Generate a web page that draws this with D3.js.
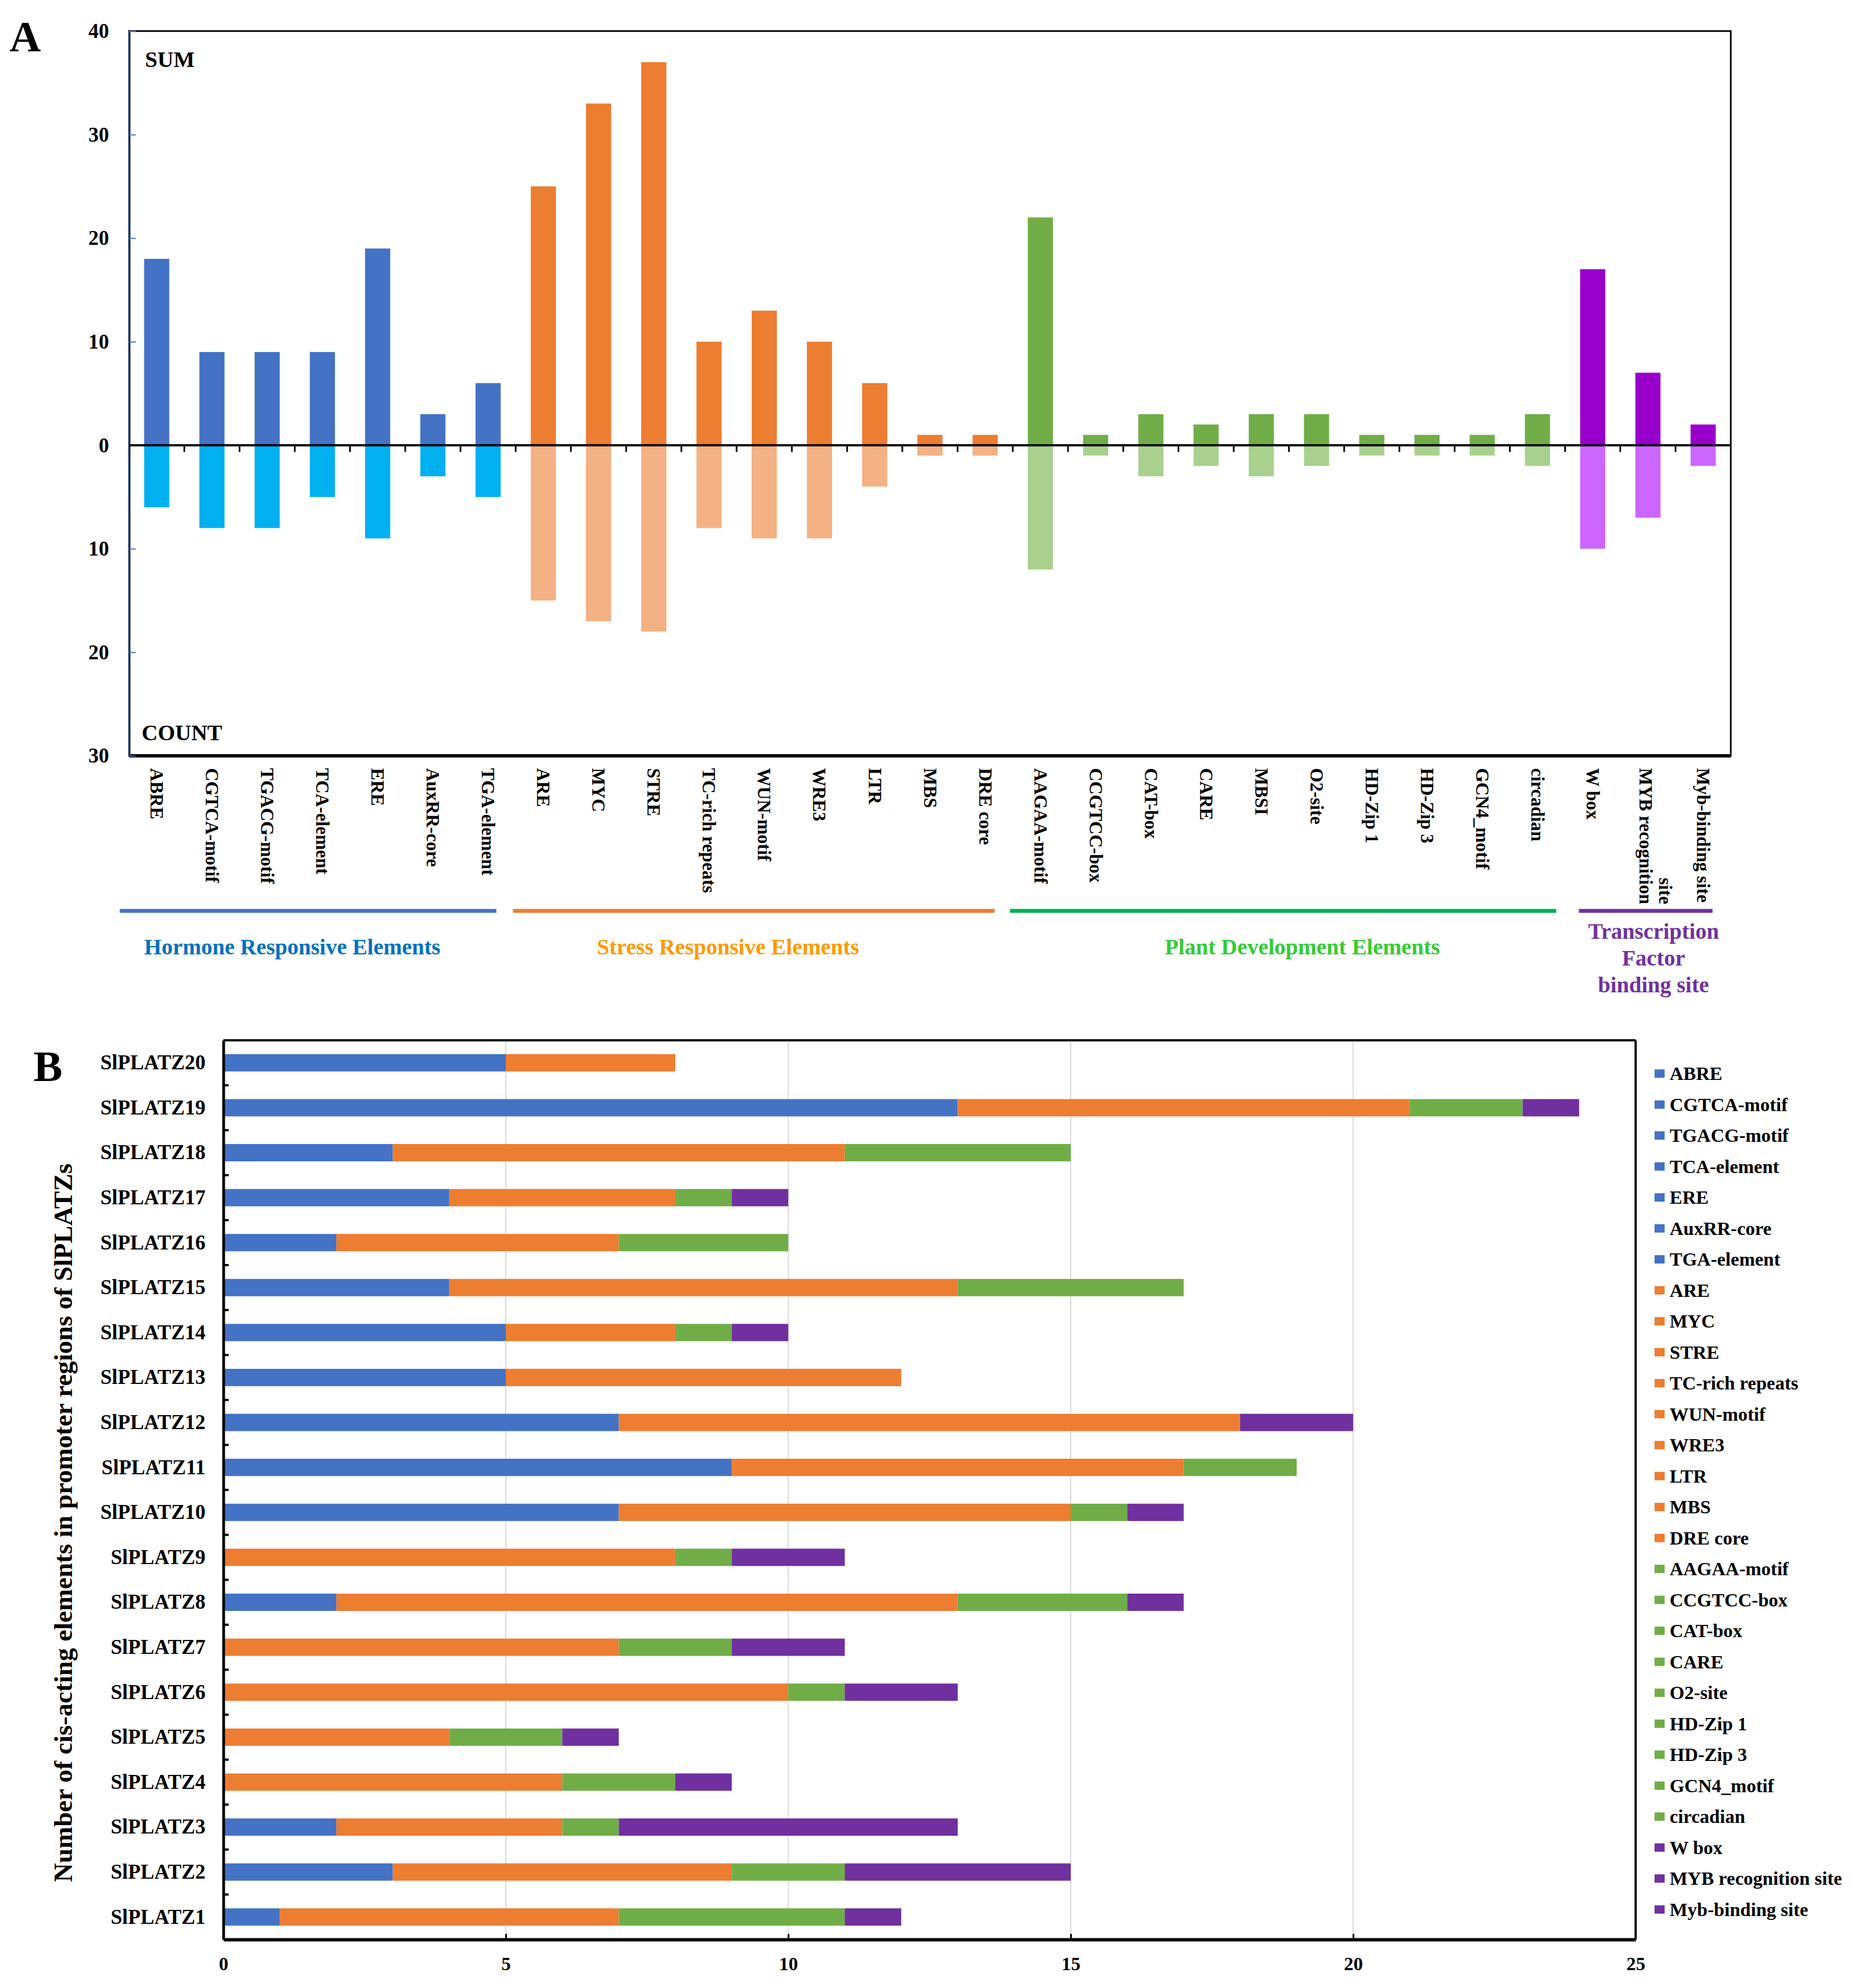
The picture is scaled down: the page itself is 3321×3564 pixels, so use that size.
<!DOCTYPE html>
<html>
<head>
<meta charset="utf-8">
<script src="https://cdn.jsdelivr.net/npm/d3@7/dist/d3.min.js"></script>
<style>
  body { margin: 0; background: #fff; }
  text { font-family: "Liberation Serif", "Times New Roman", serif; font-weight: bold; }
</style>
</head>
<body>
<svg id="chart" width="3321" height="3564"></svg>
<script>
/* ---- panel A data ---- */
var elements = ["ABRE", "CGTCA-motif", "TGACG-motif", "TCA-element", "ERE", "AuxRR-core", "TGA-element",
                "ARE", "MYC", "STRE", "TC-rich repeats", "WUN-motif", "WRE3", "LTR", "MBS", "DRE core",
                "AAGAA-motif", "CCGTCC-box", "CAT-box", "CARE", "MBSI", "O2-site", "HD-Zip 1", "HD-Zip 3", "GCN4_motif", "circadian",
                "W box", "MYB recognition site", "Myb-binding site"];
var sumValues   = [18, 9, 9, 9, 19, 3, 6,  25, 33, 37, 10, 13, 10, 6, 1, 1,  22, 1, 3, 2, 3, 3, 1, 1, 1, 3,  17, 7, 2];
var countValues = [6, 8, 8, 5, 9, 3, 5,  15, 17, 18, 8, 9, 9, 4, 1, 1,  12, 1, 3, 2, 3, 2, 1, 1, 1, 2,  10, 7, 2];
var groupNames = ["Hormone Responsive Elements", "Stress Responsive Elements", "Plant Development Elements", "Transcription Factor binding site"];
var groupSizes = [7, 9, 10, 3];
var yTicksA = [-30, -20, -10, 0, 10, 20, 30, 40];

/* ---- panel B data ---- */
var genes = ["SlPLATZ20", "SlPLATZ19", "SlPLATZ18", "SlPLATZ17", "SlPLATZ16", "SlPLATZ15", "SlPLATZ14",
             "SlPLATZ13", "SlPLATZ12", "SlPLATZ11", "SlPLATZ10", "SlPLATZ9", "SlPLATZ8", "SlPLATZ7",
             "SlPLATZ6", "SlPLATZ5", "SlPLATZ4", "SlPLATZ3", "SlPLATZ2", "SlPLATZ1"];
var hormoneCounts = [5, 13, 3, 4, 2, 4, 5, 5, 7, 9, 7, 0, 2, 0, 0, 0, 0, 2, 3, 1];
var stressCounts  = [3, 8, 8, 4, 5, 9, 3, 7, 11, 8, 8, 8, 11, 7, 10, 4, 6, 4, 6, 6];
var devCounts     = [0, 2, 4, 1, 3, 4, 1, 0, 0, 2, 1, 1, 3, 2, 1, 2, 2, 1, 2, 4];
var tfCounts      = [0, 1, 0, 1, 0, 0, 1, 0, 2, 0, 1, 2, 1, 2, 2, 1, 1, 6, 4, 1];
var xTicksB = [0, 5, 10, 15, 20, 25];
var legendNames = ["ABRE", "CGTCA-motif", "TGACG-motif", "TCA-element", "ERE", "AuxRR-core", "TGA-element",
                   "ARE", "MYC", "STRE", "TC-rich repeats", "WUN-motif", "WRE3", "LTR", "MBS", "DRE core",
                   "AAGAA-motif", "CCGTCC-box", "CAT-box", "CARE", "O2-site", "HD-Zip 1", "HD-Zip 3", "GCN4_motif", "circadian",
                   "W box", "MYB recognition site", "Myb-binding site"];
var legendGroupSizes = [7, 9, 9, 3];

/* ---- styles ---- */
var upColors    = ["#4472C4", "#ED7D31", "#70AD47", "#9900CC"];
var downColors  = ["#00B0F0", "#F4B183", "#A9D18E", "#CC66FF"];
var lineColors  = ["#4472C4", "#ED7D31", "#00B050", "#7030A0"];
var titleColors = ["#0070C0", "#FF9900", "#33CC33", "#7030A0"];
var stackColors = ["#4472C4", "#ED7D31", "#70AD47", "#7030A0"];
var titleShift  = [-54, -65, 24, 10];
// group underline ends, in category steps from first / last bar centre
var lineStart = [-0.67, -0.55, -0.55, -0.25];
var lineEnd   = [0.15, 0.17, 0.34, 0.17];

var svg = d3.select("#chart");

function expandGroups(sizes) {
  var out = [];
  sizes.forEach(function(n, g) { for (var i = 0; i < n; i++) out.push(g); });
  return out;
}

/* =============== panel A =============== */
var elementGroup = expandGroups(groupSizes);
var xA = d3.scaleBand().domain(elements).range([231.5, 3103.6]).paddingInner(0.545).paddingOuter(0.2725);
var yA = d3.scaleLinear().domain([-30, 40]).range([1355, 55.7]);
var gA = svg.append("g");

// frame
gA.append("rect").attr("x", 231.5).attr("y", yA(40)).attr("width", 3103.6 - 231.5).attr("height", yA(-30) - yA(40))
  .attr("fill", "none").attr("stroke", "#000").attr("stroke-width", 3);
gA.append("line").attr("x1", 231.5).attr("x2", 3103.6).attr("y1", yA(-30)).attr("y2", yA(-30))
  .attr("stroke", "#000").attr("stroke-width", 6);

// up bars (SUM)
gA.selectAll("rect.up").data(elements).enter().append("rect")
  .attr("class", "up")
  .attr("x", function(d) { return xA(d); })
  .attr("width", xA.bandwidth())
  .attr("y", function(d, i) { return yA(sumValues[i]); })
  .attr("height", function(d, i) { return yA(0) - yA(sumValues[i]); })
  .attr("fill", function(d, i) { return upColors[elementGroup[i]]; });

// down bars (COUNT)
gA.selectAll("rect.down").data(elements).enter().append("rect")
  .attr("class", "down")
  .attr("x", function(d) { return xA(d); })
  .attr("width", xA.bandwidth())
  .attr("y", yA(0))
  .attr("height", function(d, i) { return yA(-countValues[i]) - yA(0); })
  .attr("fill", function(d, i) { return downColors[elementGroup[i]]; });

// left axis
var axisA = gA.append("g").attr("transform", "translate(231.5,0)")
  .call(d3.axisLeft(yA).tickValues(yTicksA).tickFormat(function(d) { return Math.abs(d); })
        .tickSizeInner(-12).tickSizeOuter(0).tickPadding(36));
axisA.select(".domain").attr("stroke", "#1F3864").attr("stroke-width", 4);
axisA.selectAll(".tick line").attr("stroke", "#4472C4").attr("stroke-width", 2);
axisA.selectAll(".tick text").attr("font-size", 37).attr("fill", "#000")
  .style("font-family", "'Liberation Serif', serif").style("font-weight", "bold");

// zero line with category ticks
var half = (xA.step() - xA.bandwidth()) / 2;
gA.append("line").attr("x1", 231.5).attr("x2", 3103.6).attr("y1", yA(0)).attr("y2", yA(0))
  .attr("stroke", "#000").attr("stroke-width", 4);
gA.selectAll("line.ctick").data(elements.slice(1)).enter().append("line")
  .attr("class", "ctick")
  .attr("x1", function(d) { return xA(d) - half; })
  .attr("x2", function(d) { return xA(d) - half; })
  .attr("y1", yA(0)).attr("y2", yA(0) + 12)
  .attr("stroke", "#000").attr("stroke-width", 3);

gA.append("text").attr("x", 260).attr("y", 120).attr("font-size", 40).text("SUM");
gA.append("text").attr("x", 254).attr("y", 1327).attr("font-size", 40).text("COUNT");
svg.append("text").attr("x", 17).attr("y", 92).attr("font-size", 78).text("A");

// rotated category labels
var labelY = 1377;
elements.forEach(function(name, i) {
  var cx = xA(name) + xA.bandwidth() / 2;
  if (name === "MYB recognition site") {
    var t1 = gA.append("text").attr("transform", "translate(" + (cx - 4) + "," + labelY + ") rotate(90)")
      .attr("font-size", 33).attr("dominant-baseline", "central").text("MYB recognition");
    var len = t1.node().getComputedTextLength();
    gA.append("text").attr("transform", "translate(" + (cx + 31) + "," + labelY + ") rotate(90)")
      .attr("x", len).attr("text-anchor", "end")
      .attr("font-size", 33).attr("dominant-baseline", "central").text("site");
  } else {
    gA.append("text").attr("transform", "translate(" + cx + "," + labelY + ") rotate(90)")
      .attr("font-size", 33).attr("dominant-baseline", "central").text(name);
  }
});

// group lines and titles
var start = 0;
groupSizes.forEach(function(n, g) {
  var first = elements[start], last = elements[start + n - 1];
  var x1 = xA(first) + xA.bandwidth() / 2 + lineStart[g] * xA.step();
  var x2 = xA(last) + xA.bandwidth() / 2 + lineEnd[g] * xA.step();
  gA.append("line").attr("x1", x1).attr("x2", x2).attr("y1", 1633).attr("y2", 1633)
    .attr("stroke", lineColors[g]).attr("stroke-width", 7);
  var cx = (xA(first) + xA(last) + xA.bandwidth()) / 2 + titleShift[g];
  if (g === 3) {
    ["Transcription", "Factor", "binding site"].forEach(function(line, k) {
      gA.append("text").attr("x", cx).attr("y", 1683 + k * 48).attr("text-anchor", "middle")
        .attr("font-size", 40).attr("fill", titleColors[g]).text(line);
    });
  } else {
    gA.append("text").attr("x", cx).attr("y", 1711).attr("text-anchor", "middle")
      .attr("font-size", 40).attr("fill", titleColors[g]).text(groupNames[g]);
  }
  start += n;
});

/* =============== panel B =============== */
var xB = d3.scaleLinear().domain([0, 25]).range([400.5, 2933]);
var yB = d3.scaleBand().domain(genes).range([1865, 3477]).paddingInner(0.615).paddingOuter(0.3075);
var gB = svg.append("g");

// grid
gB.selectAll("line.grid").data(xTicksB.slice(1, -1)).enter().append("line")
  .attr("class", "grid")
  .attr("x1", function(d) { return xB(d); }).attr("x2", function(d) { return xB(d); })
  .attr("y1", 1865).attr("y2", 3477)
  .attr("stroke", "#D9D9D9").attr("stroke-width", 2);

// stacked bars
var rows = genes.map(function(g, i) {
  return { gene: g, hormone: hormoneCounts[i], stress: stressCounts[i], dev: devCounts[i], tf: tfCounts[i] };
});
var series = d3.stack().keys(["hormone", "stress", "dev", "tf"])(rows);
gB.selectAll("g.series").data(series).enter().append("g")
  .attr("class", "series")
  .attr("fill", function(d, i) { return stackColors[i]; })
  .selectAll("rect").data(function(d) { return d; }).enter().append("rect")
  .attr("x", function(d) { return xB(d[0]); })
  .attr("width", function(d) { return xB(d[1]) - xB(d[0]); })
  .attr("y", function(d) { return yB(d.data.gene); })
  .attr("height", yB.bandwidth());

// frame
gB.append("line").attr("x1", 400.5).attr("x2", 2933).attr("y1", 1865).attr("y2", 1865)
  .attr("stroke", "#000").attr("stroke-width", 4);
gB.append("line").attr("x1", 2933).attr("x2", 2933).attr("y1", 1865).attr("y2", 3477)
  .attr("stroke", "#000").attr("stroke-width", 4);

// bottom axis
var axisB = gB.append("g").attr("transform", "translate(0,3477)")
  .call(d3.axisBottom(xB).tickValues(xTicksB).tickSizeInner(-10).tickSizeOuter(0).tickPadding(31));
axisB.select(".domain").attr("stroke", "#000").attr("stroke-width", 6);
axisB.selectAll(".tick line").attr("stroke", "#000").attr("stroke-width", 3);
axisB.selectAll(".tick text").attr("font-size", 34).attr("fill", "#000")
  .style("font-family", "'Liberation Serif', serif").style("font-weight", "bold");

// left axis with labels
var axisBL = gB.append("g").attr("transform", "translate(400.5,0)")
  .call(d3.axisLeft(yB).tickSize(0).tickPadding(32));
axisBL.select(".domain").attr("stroke", "#000").attr("stroke-width", 5);
axisBL.selectAll(".tick text").attr("font-size", 37).attr("fill", "#000")
  .style("font-family", "'Liberation Serif', serif").style("font-weight", "bold");
var halfB = (yB.step() - yB.bandwidth()) / 2;
gB.selectAll("line.rtick").data(genes.slice(1)).enter().append("line")
  .attr("class", "rtick")
  .attr("x1", 400.5).attr("x2", 410)
  .attr("y1", function(d) { return yB(d) - halfB; })
  .attr("y2", function(d) { return yB(d) - halfB; })
  .attr("stroke", "#000").attr("stroke-width", 4);

gB.append("text").attr("transform", "translate(113,2730) rotate(-90)")
  .attr("text-anchor", "middle").attr("dominant-baseline", "central").attr("font-size", 47)
  .text("Number of cis-acting elements in promoter regions of SlPLATZs");
svg.append("text").attr("x", 60).attr("y", 1938).attr("font-size", 78).text("B");

// legend
var legendGroup = expandGroups(legendGroupSizes);
var legend = gB.selectAll("g.legend").data(legendNames).enter().append("g")
  .attr("class", "legend")
  .attr("transform", function(d, i) { return "translate(2967," + (1924.7 + i * 55.5) + ")"; });
legend.append("rect").attr("x", 0).attr("y", -7.5).attr("width", 18).attr("height", 15)
  .attr("fill", function(d, i) { return stackColors[legendGroup[i]]; });
legend.append("text").attr("x", 27).attr("dominant-baseline", "central").attr("font-size", 34)
  .text(function(d) { return d; });
</script>
</body>
</html>
